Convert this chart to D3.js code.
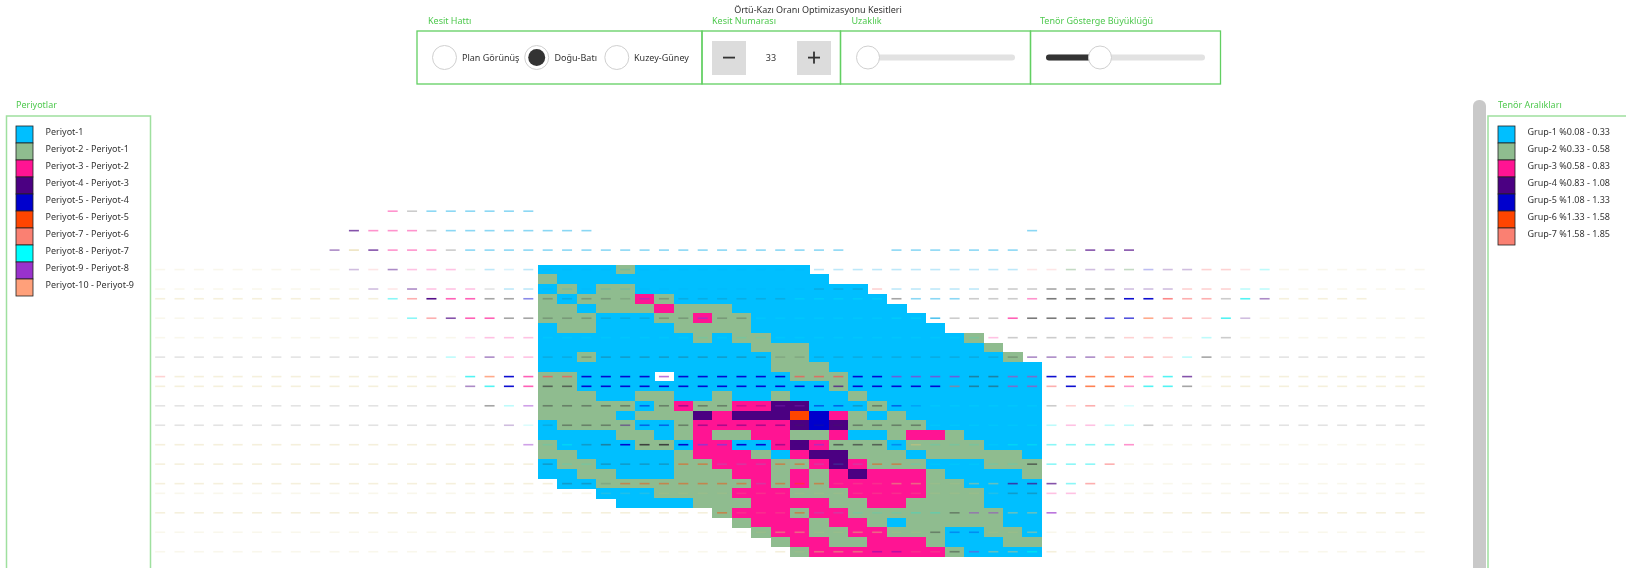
<!DOCTYPE html>
<html>
<head>
<meta charset="utf-8">
<style>
  html, body { margin: 0; padding: 0; background: #fff; overflow: hidden; }
  svg { display: block; filter: blur(0.45px); }
  text { font-family: "Noto Sans", sans-serif; fill: #333; font-size: 9px; }
  .green { fill: #4fc94f; }
</style>
</head>
<body>
<svg width="1626" height="568"></svg>
<script src="https://cdn.jsdelivr.net/npm/d3@7"></script>
<script>
// Legend texts
const periodLabels = ["Periyot-1", "Periyot-2 - Periyot-1", "Periyot-3 - Periyot-2", "Periyot-4 - Periyot-3",
  "Periyot-5 - Periyot-4", "Periyot-6 - Periyot-5", "Periyot-7 - Periyot-6", "Periyot-8 - Periyot-7",
  "Periyot-9 - Periyot-8", "Periyot-10 - Periyot-9"];
const gradeLabels = ["Grup-1 %0.08 - 0.33", "Grup-2 %0.33 - 0.58", "Grup-3 %0.58 - 0.83", "Grup-4 %0.83 - 1.08",
  "Grup-5 %1.08 - 1.33", "Grup-6 %1.33 - 1.58", "Grup-7 %1.58 - 1.85"];
const viewLabels = ["Plan Görünüş", "Doğu-Batı", "Kuzey-Güney"];
const sectionNumber = 33;

// Block per row and column: . = nothing, 1-7 = legend entry
const sectionGrid = [
  "11112111111111............",
  "211111111111111...........",
  "12122111111111111.........",
  "212223211111111111........",
  "2212223222111111111.......",
  "22211122322111111111......",
  "122111122221111111111.....",
  "11111111212211111111112...",
  "111111111112221111111112..",
  "1121111111112211111111112.",
  "11111111111122211111111111",
  "221111.1111112221111111111",
  "22111111111111121111111111",
  "22211221121121112111111111",
  "22222123223344111211111111",
  "22221222434446532121111111",
  "12222112333334542222111111",
  "11112212322332231123321111",
  "21111221331134322212222111",
  "22111112333213442221222221",
  "12211112233322343222111222",
  "11221112223323234333211112",
  ".1122222222323233333221111",
  "...11122223332223333222111",
  "....1111222333322332222111",
  ".........23332332222222211",
  "..........2333233212222211",
  "...........233223322211221",
  "............23322333211122",
  ".............2333333321111"
];

// Thin dashes: row in section units, then columns -20..45 as left, section and right part.
// Period code: 1-9, a = period 10, g = grey. Strength: 1 faint .. 5 solid.
const dashRows = [-6, -4, -2, 0, 2, 3, 5, 7, 9, 11, 12, 14, 16, 18, 20, 22, 23, 25, 27, 29];
const dashPeriods = [
  "............3g111111 .......................... ....................",
  "..........4333g11111 111......................1 ....................",
  ".........4a4333g1111 1111111111111111..1111111g g2444...............",
  "aaaaaaaaaa4743332111 11111111111111111111111117 724425447778aaaaaaaa",
  "aaaaaaaaaaa474333g11 11111111111111ggg711111ggg gggg44477788aaaaaaaa",
  "aaaaaaaaaaaa87433gg5 ggggg9ggggggg88888g111ggg3 gggg55777g84aaaaa...",
  "aaaaaaaaaaaaa87433gg gggggggg9gg8888888881ggg3g ggg55677784aaaaaaaaa",
  "aaaaaaaaaaaaaaaa3333 888888888888888888888883gg gggg777a8gaaaaaaaaaa",
  "ggggggggggggggg83433 ggggggggggggggggggggggggg4 44477778gggggggggggg",
  "7aaaaaaaaaaaaaaa8653 7755559555555777559999gg33 55666384aaaaaaaaaaaa",
  "aaaaaaaaaaaaaaaa4853 gg55555555555554555557gg33 7566388gaaaaaaaaaaaa",
  "gggggggggggggggggg89 ggggg5g4gg449955gg55888888 g77g8ggggggggggggggg",
  "gggggggggggggggggg48 gggg455g44444ggggggg888888 83388ggggggggggggggg",
  "aaaaaaaaaaaaaaaaaaa9 88gg5gg59955449ggg5a888888 88883aaaaaaaaaaaaaaa",
  "aaaaaaaaaaaaaaaaaaaa g88gggg668886688866888888g 8887aaaaaaaaaaaaaaaa",
  "aaaaaaaaaaaaaaaaaaaa aggg66666668666aaaaaaaaa44 487aaaaaaaaaaaaaaaaa",
  "aaaaaaaaaaaaaaaaaaaa aaaaaaaaaaaaaaaaaaaaaaaagg 33aaaaaaaaaaaaaaaaaa",
  "aaaaaaaaaaaaaaaaaaaa aaaaaaaaa6aaa68888888g99aa 9aaaaaaaaaaaaaaaaaaa",
  "aaaaaaaaaaaaaaaaaaaa aaaaaaaaaaaaaaaaaaaag55aaa aaaaaaaaaaaaaaaaaaaa",
  "aaaaaaaaaaaaaaaaaaaa aaaaaaaaaaaaaaaaa55aag9aa8 aaaaaaaaaaaaaaaaaaaa"
];
const dashGrades = [
  "............32333333 .......................... ....................",
  "..........4333233333 333......................3 ....................",
  ".........33433323333 3333333333333333..33333332 23444...............",
  "11111111112132221212 11111111111111222222222221 13223222221211111111",
  "11111111111213222122 11111111111111111222222222 33332222222211111111",
  "22222222222233544333 21221421111112222233332223 44445543324322222...",
  "11111111111113344433 22211122422111111122422244 44444333242111111111",
  "11111111111111111222 11111111111111111111111222 22222221221111111111",
  "11111111111111122322 11222222222211111111111123 33333322311111111111",
  "22222222222222214354 44555545555554445544443333 55444344222222222222",
  "22222222222222223454 44555555555555545555533333 35443443122222222222",
  "11111111111111111323 33333333332222332331111111 22311111111111111111",
  "11111111111111111121 13333333333331113333111111 22222211111111111111",
  "22222222222222222223 13235555555533444423111133 33333111111111111111",
  "22222222222222222222 21122223311133111331111114 33331111111111111111",
  "22222222222222222222 22213333333133311133113344 43311111111111111111",
  "11111111111111111111 11111111111111111111111122 22111111111111111111",
  "22222222222222222222 22222222231113111112233333 42222222222222222222",
  "11111111111111111111 11111111111133113311322113 11111111111111111111",
  "11111111111111111111 11111111111121333221133334 21111111111111111111"
];

const svg = d3.select("svg");

// Colours
const periodColors = ["#00bfff", "#8fbc8f", "#ff1493", "#4b0082", "#0000cd", "#ff4500", "#fa8072", "#00ffff", "#9932cc", "#ffa07a"];
const dashColor = d3.scaleOrdinal()
  .domain(["1", "2", "3", "4", "5", "6", "7", "8", "9", "a", "g"])
  .range(["#00a8e8", "#7fae7f", "#ff1493", "#4b0082", "#0000cd", "#ff4500", "#fa5050", "#00eeee", "#9932cc", "#d8c478", "#3a3a3a"]);
const dashOpacity = d3.scaleOrdinal()
  .domain(["1", "2", "3", "4", "5"])
  .range([0.14, 0.26, 0.46, 0.68, 0.95]);

// Section scales, one unit is one block
const x = d3.scaleLinear().domain([0, 26]).range([538, 1041.8]);
const y = d3.scaleLinear().domain([0, 30]).range([264.7, 556.6]);

// Blocks
const cells = [];
sectionGrid.forEach((row, r) => {
  row.split("").forEach((ch, c) => {
    if (ch !== ".") cells.push({ r, c, group: +ch });
  });
});
svg.append("g")
  .attr("shape-rendering", "crispEdges")
  .selectAll("rect")
  .data(cells)
  .join("rect")
    .attr("x", d => x(d.c))
    .attr("y", d => y(d.r))
    .attr("width", x(1) - x(0) + 0.4)
    .attr("height", y(1) - y(0) + 0.4)
    .attr("fill", d => periodColors[d.group - 1]);

// Dashes
const dashes = [];
dashRows.forEach((row, i) => {
  const p = dashPeriods[i].replace(/ /g, ""), g = dashGrades[i].replace(/ /g, "");
  p.split("").forEach((ch, k) => {
    if (ch !== ".") dashes.push({ row, col: k - 20, period: ch, grade: g[k] });
  });
});
svg.append("g")
  .selectAll("rect")
  .data(dashes)
  .join("rect")
    .attr("x", d => x(d.col + 0.5) - 5)
    .attr("y", d => y(d.row + 0.5) - 0.8)
    .attr("width", 10)
    .attr("height", 1.6)
    .attr("fill", d => dashColor(d.period))
    .attr("opacity", d => dashOpacity(d.grade));

// Side panels with their swatches
function legend(panelX, panelW, title, titleX, swatchX, textX, labels) {
  svg.append("rect")
    .attr("x", panelX).attr("y", 116).attr("width", panelW).attr("height", 520)
    .attr("fill", "none").attr("stroke", "#9fe09f").attr("stroke-width", 1.5);
  svg.append("text").attr("class", "green").attr("x", titleX).attr("y", 108).text(title);
  const rows = svg.append("g").selectAll("g").data(labels).join("g")
    .attr("transform", (d, i) => `translate(0,${126 + i * 17})`);
  rows.append("rect")
    .attr("x", swatchX).attr("y", 0).attr("width", 17).attr("height", 17)
    .attr("fill", (d, i) => periodColors[i]).attr("stroke", "#222").attr("stroke-width", 0.8);
  rows.append("text").attr("x", textX).attr("y", 9).text(d => d);
}
legend(6.5, 144, "Periyotlar", 16, 16, 45.5, periodLabels);
legend(1488, 200, "Tenör Aralıkları", 1498, 1498, 1527.5, gradeLabels);

// Scrollbar next to the right panel
svg.append("rect")
  .attr("x", 1473).attr("y", 100).attr("width", 13).attr("height", 500).attr("rx", 6)
  .attr("fill", "#c9c9c9");

// Top controls
svg.append("text").attr("x", 818).attr("y", 13).attr("text-anchor", "middle").text("Örtü-Kazı Oranı Optimizasyonu Kesitleri");
const boxEdges = [417, 702, 840.5, 1030.5, 1220.5];
const boxTitles = ["Kesit Hattı", "Kesit Numarası", "Uzaklık", "Tenör Gösterge Büyüklüğü"];
const boxTitleX = [428, 712, 851.5, 1040];
boxTitles.forEach((t, i) => {
  svg.append("rect")
    .attr("x", boxEdges[i]).attr("y", 31)
    .attr("width", boxEdges[i + 1] - boxEdges[i]).attr("height", 53)
    .attr("fill", "none").attr("stroke", "#62cf62").attr("stroke-width", 1.3);
  svg.append("text").attr("class", "green").attr("x", boxTitleX[i]).attr("y", 24).text(t);
});

// Radio buttons
const radioX = [444.5, 536.7, 616.8];
const radioTextX = [462, 554.5, 634];
viewLabels.forEach((t, i) => {
  svg.append("circle").attr("cx", radioX[i]).attr("cy", 57.5).attr("r", 12)
    .attr("fill", "#fff").attr("stroke", "#cfcfcf").attr("stroke-width", 1);
  if (i === 1) svg.append("circle").attr("cx", radioX[i]).attr("cy", 57.5).attr("r", 8.5).attr("fill", "#333");
  svg.append("text").attr("x", radioTextX[i]).attr("y", 60.5).text(t);
});

// Number stepper
svg.append("rect").attr("x", 712).attr("y", 41).attr("width", 34).attr("height", 34).attr("fill", "#dcdcdc");
svg.append("rect").attr("x", 797).attr("y", 41).attr("width", 34).attr("height", 34).attr("fill", "#dcdcdc");
svg.append("rect").attr("x", 723).attr("y", 56.7).attr("width", 12).attr("height", 1.8).attr("fill", "#333");
svg.append("rect").attr("x", 808).attr("y", 56.7).attr("width", 12).attr("height", 1.8).attr("fill", "#333");
svg.append("rect").attr("x", 813.1).attr("y", 51.6).attr("width", 1.8).attr("height", 12).attr("fill", "#333");
svg.append("text").attr("x", 771).attr("y", 60.5).attr("text-anchor", "middle").text(sectionNumber);

// Sliders
svg.append("rect").attr("x", 867).attr("y", 54.5).attr("width", 148).attr("height", 6).attr("rx", 3).attr("fill", "#e2e2e2");
svg.append("circle").attr("cx", 868).attr("cy", 57.5).attr("r", 11.5).attr("fill", "#fff").attr("stroke", "#cfcfcf");
svg.append("rect").attr("x", 1046).attr("y", 54.5).attr("width", 159).attr("height", 6).attr("rx", 3).attr("fill", "#e2e2e2");
svg.append("rect").attr("x", 1046).attr("y", 54.5).attr("width", 54).attr("height", 6).attr("rx", 3).attr("fill", "#333");
svg.append("circle").attr("cx", 1100).attr("cy", 57.5).attr("r", 11.5).attr("fill", "#fff").attr("stroke", "#cfcfcf");
</script>
</body>
</html>
